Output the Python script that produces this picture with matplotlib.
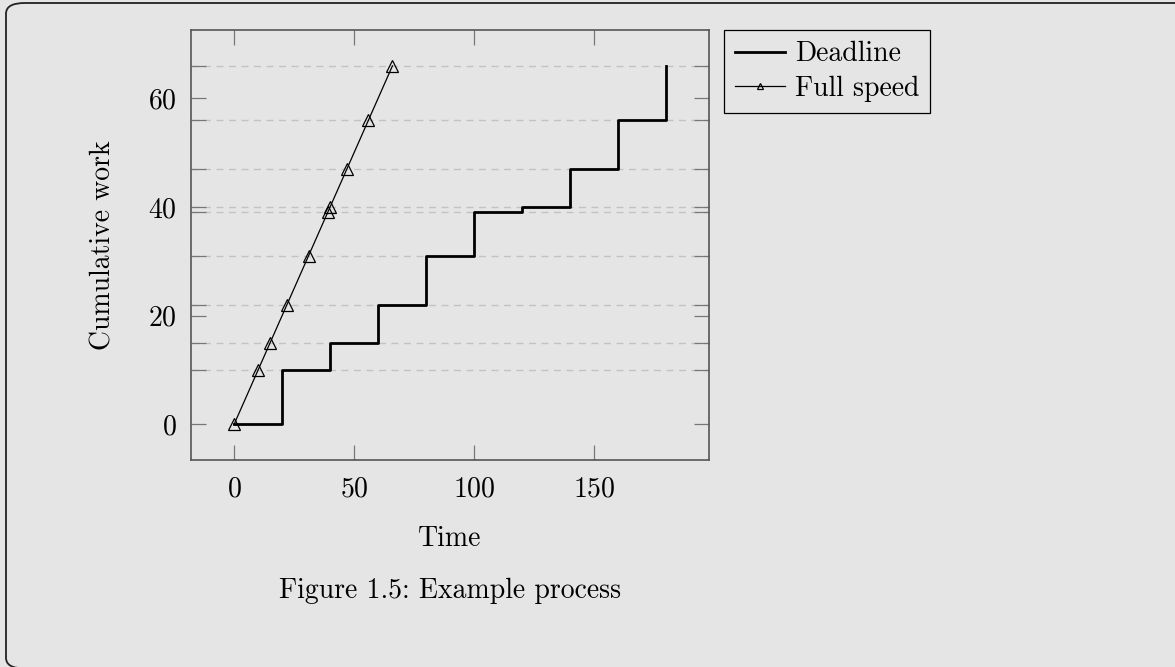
import matplotlib
matplotlib.use('Agg')
import matplotlib.pyplot as plt
from matplotlib.patches import FancyBboxPatch

plt.rcParams['font.family'] = ['cmr10', 'DejaVu Serif']
plt.rcParams['axes.formatter.use_mathtext'] = True
plt.rcParams['mathtext.fontset'] = 'cm'

# Deadline step curve (time, cumulative work)
deadline_t = [0, 20, 20, 40, 40, 60, 60, 80, 80, 100, 100, 120, 120, 140, 140, 160, 160, 180, 180]
deadline_w = [0, 0, 10, 10, 15, 15, 22, 22, 31, 31, 39, 39, 40, 40, 47, 47, 56, 56, 66]
# Full speed curve
full_t = [0, 10, 15, 22, 31, 39, 40, 47, 56, 66]
full_w = [0, 10, 15, 22, 31, 39, 40, 47, 56, 66]
# extra y ticks with dashed grid lines
extra_y = [10, 15, 22, 31, 39, 40, 47, 56, 66]
major_x = [0, 50, 100, 150]
major_y = [0, 20, 40, 60]

bg = '#e5e5e5'
fs = 20
fig = plt.figure(figsize=(11.75, 6.67), dpi=100, facecolor=bg)
W, H = 1175, 667

# rounded frame around the whole figure (bottom and right run off the page)
box = FancyBboxPatch((6 / W, -1.5 / H), (1200 - 6) / W, (664 + 1.5) / H,
                     boxstyle='round,pad=0,rounding_size=0.016',
                     transform=fig.transFigure, facecolor='none',
                     edgecolor='#222222', linewidth=1.3, clip_on=True)
fig.patches.append(box)

ax = fig.add_axes([191 / W, 1 - 460 / H, (709 - 191) / W, (460 - 30) / H])
ax.set_facecolor(bg)

for y in extra_y:
    ax.axhline(y, color='#c2c2c2', linestyle=(0, (5, 4)), linewidth=1.0, zorder=1)

ax.plot(deadline_t, deadline_w, color='black', linewidth=2.0, label='Deadline', zorder=3)
ax.plot(full_t, full_w, color='black', linewidth=0.9, marker='^', markersize=8,
        markerfacecolor='none', markeredgewidth=0.9, label='Full speed', zorder=4)

ax.set_xlim(-18, 198)
ax.set_ylim(-6.6, 72.6)
ax.set_xticks(major_x)
ax.set_yticks(major_y)
ax.set_yticks(extra_y, minor=True)
ax.tick_params(which='both', direction='in', top=True, right=True, length=11,
               width=0.9, color='#777777', labelsize=fs)
ax.tick_params(axis='x', pad=12)
ax.tick_params(axis='y', pad=10)
for s in ax.spines.values():
    s.set_color('#555555')
    s.set_linewidth(1.2)

ax.set_xlabel('Time', fontsize=fs, labelpad=16)
ax.set_ylabel('Cumulative work', fontsize=fs, labelpad=23)

leg = ax.legend(loc='upper left', bbox_to_anchor=(724 / W, 1 - 30 / H),
                bbox_transform=fig.transFigure, fontsize=fs, frameon=True,
                fancybox=False, edgecolor='black', facecolor=bg, framealpha=1,
                handlelength=1.8, handletextpad=0.35, borderpad=0.4,
                labelspacing=0.3, borderaxespad=0, markerscale=0.6)
leg.get_frame().set_linewidth(0.9)

fig.text(450 / W, 1 - 591 / H, 'Figure 1.5: Example process', fontsize=fs,
         ha='center', va='center')

fig.savefig('out.png', dpi=100, facecolor=bg)
